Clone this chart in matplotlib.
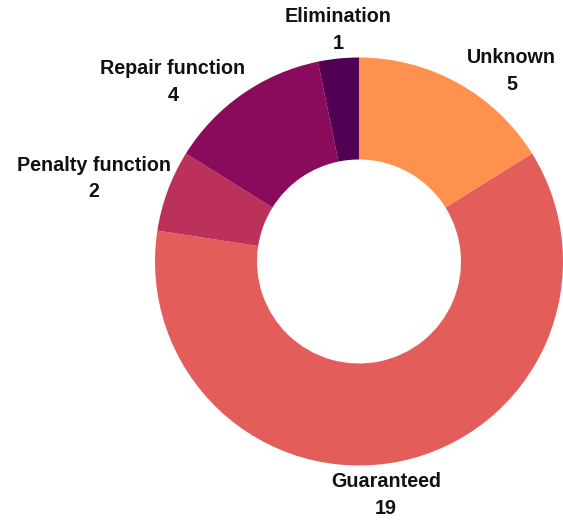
import numpy as np
import matplotlib
matplotlib.use('Agg')
import matplotlib.pyplot as plt

categories = ['Unknown', 'Guaranteed', 'Penalty function', 'Repair function', 'Elimination']
counts = [5, 19, 2, 4, 1]
colors = ['#FE914D', '#E35D5A', '#BC3159', '#8A0B5B', '#510054']

W, H = 563, 523
fig = plt.figure(figsize=(W / 100, H / 100), dpi=100)
ax = fig.add_axes([0, 0, 1, 1])
cx, cy, R = 359, H - 261.5, 204
ax.pie(counts, colors=colors, startangle=90, counterclock=False, radius=R,
       center=(cx, cy), wedgeprops=dict(width=R * 0.5, linewidth=0), frame=True)
ax.set_xlim(0, W)
ax.set_ylim(0, H)
ax.set_aspect('equal')
ax.axis('off')

px = 72 / 100
total = sum(counts)
cum = np.cumsum([0] + counts)
for i, (name, val) in enumerate(zip(categories, counts)):
    mid = 90 - (cum[i] + val / 2) / total * 360
    t = np.deg2rad(mid)
    axx, axy = cx + R * np.cos(t), cy + R * np.sin(t)
    s, c = np.sin(t), np.cos(t)
    if abs(s) > 0.95:
        ha = 'center'
        va = 'bottom' if s > 0 else 'top'
        dx, dy = (0, 6) if s > 0 else (-14, -11)
    else:
        ha = 'left' if c > 0 else 'right'
        va = 'center'
        dx, dy = (9 if c > 0 else 3), 12
    ax.annotate(f'{name}\n{val}', (axx, axy), xytext=(dx * px, dy * px),
                textcoords='offset points', ha=ha, va=va, multialignment='center',
                fontsize=14.2, fontweight='bold', family=['Liberation Sans', 'DejaVu Sans'],
                linespacing=1.5, color='#111111')

fig.savefig('out.png', dpi=100, facecolor='white')
